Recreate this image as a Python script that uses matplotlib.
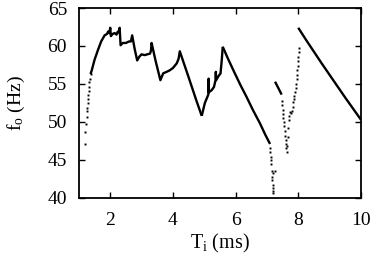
import matplotlib
matplotlib.use('Agg')
import matplotlib.pyplot as plt

plt.rcParams['font.family'] = 'Liberation Serif'
plt.rcParams['mathtext.fontset'] = 'custom'
plt.rcParams['mathtext.rm'] = 'Liberation Serif'
plt.rcParams['mathtext.it'] = 'Liberation Serif:italic'

# sparse dots at the onset
onset_x = [1.20, 1.20, 1.22, 1.25, 1.26, 1.27, 1.28, 1.29, 1.30, 1.31, 1.32, 1.33, 1.35, 1.37]
onset_y = [47.1, 48.7, 49.7, 50.6, 51.4, 51.9, 52.5, 53.0, 53.6, 54.1, 54.6, 55.2, 55.7, 56.3]

# dense saw-tooth branch (1.37 - 4.92 ms)
saw_x = [1.37, 1.41, 1.50, 1.61, 1.71, 1.82, 1.90, 1.93, 1.97, 2.00, 2.02, 2.08, 2.14, 2.20,
         2.24, 2.28, 2.30, 2.33, 2.40, 2.50, 2.60, 2.66, 2.70, 2.78, 2.86, 2.93, 3.00, 3.10,
         3.18, 3.27, 3.30, 3.32, 3.45, 3.60, 3.69, 3.80, 3.90, 4.00, 4.12, 4.18, 4.22, 4.50,
         4.75, 4.92]
saw_y = [56.3, 56.8, 58.2, 59.5, 60.6, 61.4, 61.6, 61.9, 61.7, 62.4, 61.3, 61.6, 61.7, 61.5,
         61.9, 61.8, 62.4, 60.1, 60.4, 60.4, 60.6, 60.6, 61.4, 59.6, 58.1, 58.6, 58.9, 58.8,
         58.9, 59.0, 59.4, 60.4, 58.0, 55.5, 56.4, 56.6, 56.8, 57.1, 57.7, 58.3, 59.3, 55.9,
         52.8, 50.8]

# jagged recovery (4.92 - 5.59 ms)
jag_x = [4.92, 5.02, 5.13, 5.14, 5.15, 5.24, 5.31, 5.36, 5.37, 5.38, 5.45, 5.52, 5.56, 5.59]
jag_y = [50.8, 52.5, 53.6, 55.7, 53.9, 54.2, 54.6, 55.5, 56.6, 55.5, 56.0, 56.4, 58.2, 59.9]

# long decay (5.59 - 7.10 ms)
decay1_x = [5.59, 5.75, 5.93, 6.15, 6.35, 6.55, 6.78, 6.95, 7.10]
decay1_y = [59.9, 58.4, 56.8, 54.9, 53.3, 51.6, 49.8, 48.3, 47.1]

# scattered dots below 7.1 ms
drop_x = [7.10, 7.11, 7.12, 7.13, 7.13, 7.16, 7.18, 7.25, 7.15, 7.17, 7.18, 7.19, 7.20, 7.19]
drop_y = [46.6, 46.0, 45.4, 45.0, 44.4, 43.6, 43.3, 43.5, 42.8, 42.3, 41.7, 41.3, 40.9, 40.6]

# short solid piece
short_x = [7.26, 7.36, 7.47]
short_y = [55.3, 54.5, 53.6]

# V-shaped dots around 7.6 ms
vdown_x = [7.47, 7.48, 7.50, 7.51, 7.52, 7.53, 7.55, 7.57, 7.59, 7.60, 7.61, 7.62, 7.63]
vdown_y = [52.8, 52.2, 51.6, 51.0, 50.5, 50.0, 49.4, 48.8, 48.2, 47.6, 47.1, 46.6, 46.1]
vup_x = [7.64, 7.66, 7.68, 7.70, 7.72, 7.73, 7.76, 7.79, 7.82, 7.84, 7.86, 7.88, 7.90, 7.92,
         7.93, 7.95, 7.96, 7.97, 7.98, 7.99, 8.00, 8.01, 8.02]
vup_y = [46.8, 48.0, 49.2, 50.3, 50.8, 51.3, 51.2, 51.5, 52.0, 52.6, 53.0, 53.4, 54.0, 54.5,
         55.0, 55.6, 56.2, 56.8, 57.4, 58.0, 58.6, 59.2, 59.7]

# final decay (8 - 10 ms)
decay2_x = [8.0, 8.25, 8.5, 8.75, 9.0, 9.25, 9.5, 9.75, 10.0]
decay2_y = [62.4, 60.8, 59.25, 57.7, 56.2, 54.7, 53.2, 51.75, 50.3]

fig = plt.figure(figsize=(3.74, 2.59), dpi=100)
ax = fig.add_axes([0.211, 0.236, 0.754, 0.733])

lw = 1.7
for xs, ys in [(saw_x, saw_y), (jag_x, jag_y), (decay1_x, decay1_y),
               (short_x, short_y), (decay2_x, decay2_y)]:
    ax.plot(xs, ys, color='black', lw=lw, solid_capstyle='butt')

for xs, ys in [(onset_x, onset_y), (drop_x, drop_y), (vdown_x, vdown_y), (vup_x, vup_y)]:
    ax.plot(xs, ys, ls='none', marker='s', ms=1.4, mec='none', mfc='black')

ax.set_xlim(1, 10)
ax.set_ylim(40, 65)
ax.set_xticks([2, 4, 6, 8, 10])
ax.set_yticks([40, 45, 50, 55, 60, 65])
ax.tick_params(direction='in', top=True, right=True, length=4, width=1.0,
               labelsize=14)
ax.tick_params(axis='x', pad=10)
ax.tick_params(axis='y', pad=8.5)
for sp in ax.spines.values():
    sp.set_linewidth(1.3)

ax.set_xlabel(r'T$_\mathrm{i}$ (ms)', fontsize=14.5, labelpad=2)
ax.set_ylabel(r'f$_\mathrm{o}$ (Hz)', fontsize=14, labelpad=15)

fig.savefig('out.png', dpi=100)
